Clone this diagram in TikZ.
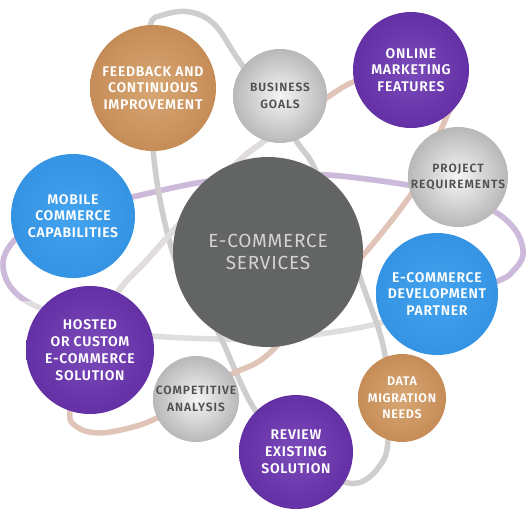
\documentclass[tikz,border=0pt]{standalone}
\usepackage{fontspec}
\setmainfont{Fira Sans}
\newfontfamily\sbfont{Fira Sans SemiBold}[LetterSpace=5]
\newfontfamily\sbgfont{Fira Sans SemiBold}[LetterSpace=8]
\newfontfamily\hubfont{Fira Sans}[LetterSpace=4]
\definecolor{bandgray}{HTML}{D0CDCD}
\definecolor{bandgrayl}{HTML}{DFDDDD}
\definecolor{bandpurple}{HTML}{CDBADA}
\definecolor{bandpink}{HTML}{E0C4B8}
\definecolor{centergray}{HTML}{636564}
\definecolor{brownin}{HTML}{D8A774}
\definecolor{brownout}{HTML}{C68C57}
\definecolor{grayin}{HTML}{F5F5F5}
\definecolor{grayout}{HTML}{B8B8B8}
\definecolor{purplein}{HTML}{7B4BBA}
\definecolor{purpleout}{HTML}{6430A5}
\definecolor{bluein}{HTML}{45A4EF}
\definecolor{blueout}{HTML}{3493E3}
\definecolor{graytext}{HTML}{505050}
\definecolor{centertext}{HTML}{D3D3D3}
\tikzset{
  band/.style={line width=5.5pt, line join=round},
  bubble/.style={circle, inner sep=0pt, align=center, text=white,
    font=\sbfont\fontsize{14}{16.8}\selectfont},
  brownc/.style={bubble, inner color=brownin, outer color=brownout},
  purplec/.style={bubble, inner color=purplein, outer color=purpleout},
  bluec/.style={bubble, inner color=bluein, outer color=blueout},
  grayc/.style={bubble, inner color=grayin, outer color=grayout, text=graytext,
    font=\sbgfont\fontsize{12}{16.7}\selectfont},
  hubc/.style={circle, inner sep=0pt, align=center, fill=centergray, text=centertext,
    font=\hubfont\fontsize{19}{22.5}\selectfont}
}
\begin{document}
\begin{tikzpicture}[x=1pt,y=-1pt]
\useasboundingbox (0,0) rectangle (530,523);
\fill[white] (0,0) rectangle (530,523);

% orbit B (wide, horizontal)
\draw[band, bandgrayl] plot[smooth cycle, tension=0.6] coordinates {
  (3,267) (9,247) (30,228) (70,211) (132,197) (203,182) (270,176) (328,175)
  (408,185) (450,195) (492,210) (516,231) (523,255) (512,272) (498,281)
  (440,304) (380,323) (327,333) (270,339) (217,339) (153,336) (100,328)
  (40,308) (13,290)};
\begin{scope}
  \clip (0,0) rectangle (530,300);
  \draw[band, bandpurple] plot[smooth cycle, tension=0.6] coordinates {
  (3,267) (9,247) (30,228) (70,211) (132,197) (203,182) (270,176) (328,175)
  (408,185) (450,195) (492,210) (516,231) (523,255) (512,272) (498,281)
  (440,304) (380,323) (327,333) (270,339) (217,339) (153,336) (100,328)
  (40,308) (13,290)};
\end{scope}

% orbit A (steep)
\draw[band, bandgray] plot[smooth cycle, tension=0.6] coordinates {
  (150,27) (163,15) (190,12) (215,25) (240,62) (297,142) (313,165)
  (340,222) (362,283) (385,355) (388,440) (378,468) (358,483) (335,478)
  (300,455) (255,410) (217,330) (190,290) (173,253) (160,200) (153,150)
  (148,90)};

% orbit C (top-right to bottom-left)
\draw[band, bandpink] plot[smooth cycle, tension=0.6] coordinates {
  (70,410) (85,350) (117,293) (147,260) (190,212) (237,163) (263,142)
  (328,97) (353,82) (395,66) (430,63) (450,78) (454,98) (447,116)
  (425,165) (412,193) (365,253) (310,310) (265,357) (230,375)
  (195,398) (157,418) (133,427) (100,433) (77,427)};
\begin{scope}
  \clip (0,110) rectangle (300,310);
  \draw[band, bandgrayl] plot[smooth cycle, tension=0.6] coordinates {
  (70,410) (85,350) (117,293) (147,260) (190,212) (237,163) (263,142)
  (328,97) (353,82) (395,66) (430,63) (450,78) (454,98) (447,116)
  (425,165) (412,193) (365,253) (310,310) (265,357) (230,375)
  (195,398) (157,418) (133,427) (100,433) (77,427)};
\end{scope}

% circles
\node[hubc, minimum size=190pt] (hub) at (268,252) {E-COMMERCE\\SERVICES};
\node[brownc, minimum size=126pt] (feedback) at (153,88) {FEEDBACK AND\\CONTINUOUS\\IMPROVEMENT};
\node[grayc, minimum size=94pt] (goals) at (280,96) {BUSINESS\\GOALS};
\node[purplec, minimum size=116pt] (online) at (411,70) {ONLINE\\MARKETING\\FEATURES};
\node[grayc, minimum size=100pt] (project) at (458,177) {PROJECT\\REQUIREMENTS};
\node[bluec, minimum size=124pt] (mobile) at (73,216) {MOBILE\\COMMERCE\\CAPABILITIES};
\node[bluec, minimum size=122pt] (partner) at (437,294) {E-COMMERCE\\DEVELOPMENT\\PARTNER};
\node[purplec, minimum size=128pt] (hosted) at (90,350) {HOSTED\\OR CUSTOM\\E-COMMERCE\\SOLUTION};
\node[grayc, minimum size=86pt] (compet) at (196,399) {COMPETITIVE\\ANALYSIS};
\node[brownc, minimum size=88pt, font=\sbfont\fontsize{12.5}{16.7}\selectfont] (data) at (402,398) {DATA\\MIGRATION\\NEEDS};
\node[purplec, minimum size=114pt] (review) at (296,452) {REVIEW\\EXISTING\\SOLUTION};
\end{tikzpicture}
\end{document}
